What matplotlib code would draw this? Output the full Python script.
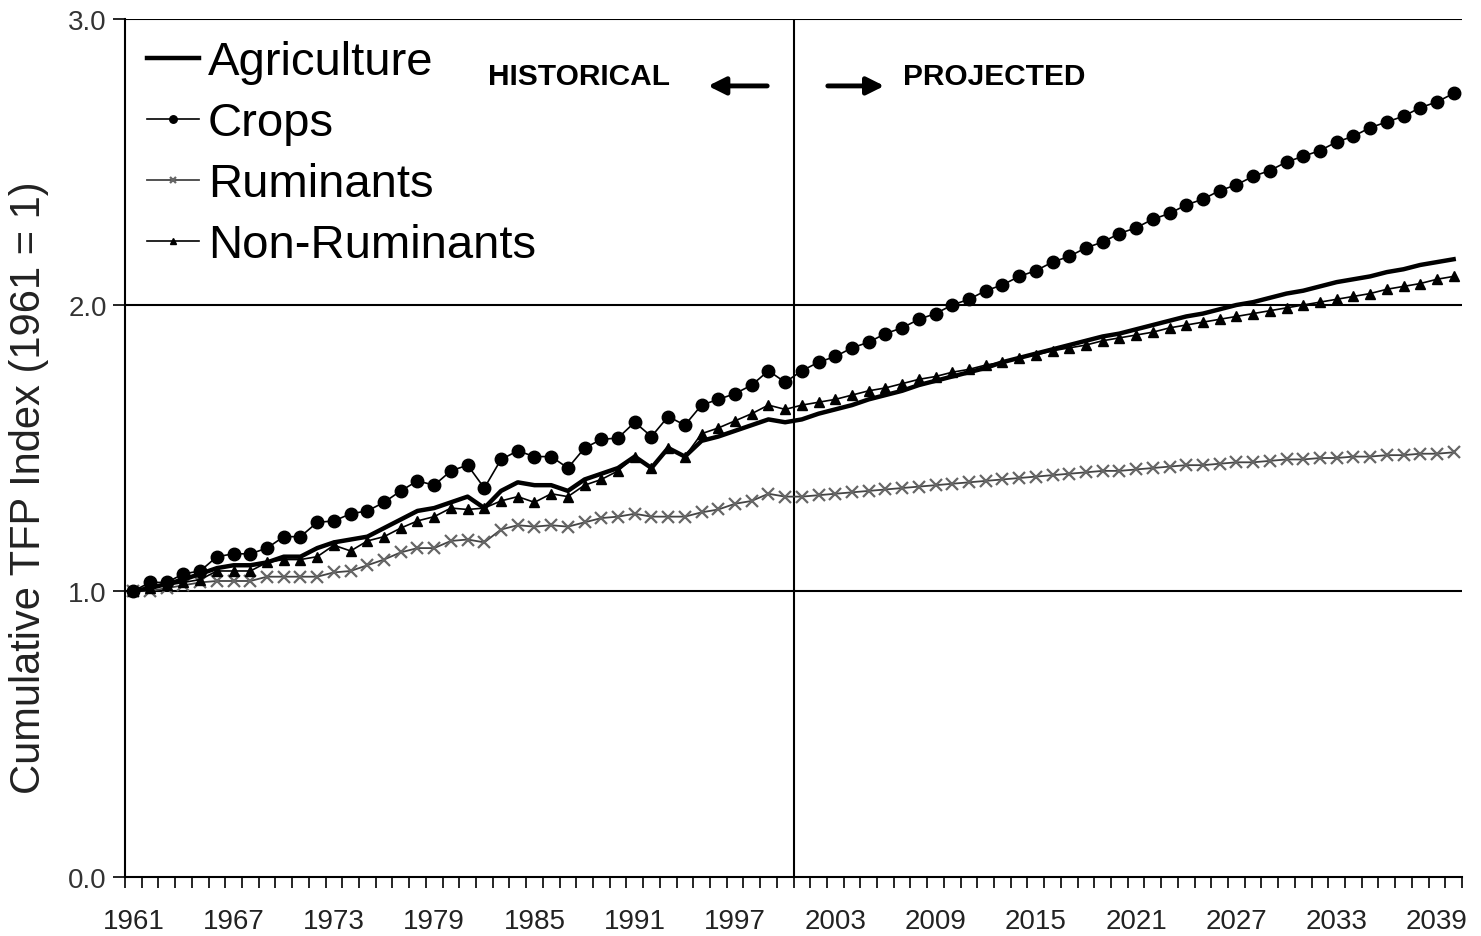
import matplotlib
matplotlib.use("Agg")
import matplotlib.pyplot as plt
import numpy as np

plt.rcParams['font.family'] = ['Liberation Sans', 'DejaVu Sans']

# years 1961-2040, historical up to 2001, projection after
years = np.arange(1961, 2041)

agriculture = [
    1.00, 1.01, 1.025, 1.04, 1.06, 1.08, 1.09, 1.09, 1.10, 1.12,
    1.12, 1.15, 1.17, 1.18, 1.19, 1.22, 1.25, 1.28, 1.29, 1.31,
    1.33, 1.29, 1.35, 1.38, 1.37, 1.37, 1.35, 1.39, 1.41, 1.43,
    1.47, 1.43, 1.50, 1.47, 1.525, 1.54, 1.56, 1.58, 1.60, 1.59,
    1.60,
    1.62, 1.635, 1.65, 1.67, 1.685, 1.70, 1.72, 1.735, 1.75,
    1.765, 1.78, 1.80, 1.815, 1.83, 1.845, 1.86, 1.875, 1.89, 1.90,
    1.915, 1.93, 1.945, 1.96, 1.97, 1.985, 2.00, 2.01, 2.025, 2.04,
    2.05, 2.065, 2.08, 2.09, 2.10, 2.115, 2.125, 2.14, 2.15, 2.16,
]

crops = [
    1.00, 1.03, 1.03, 1.06, 1.07, 1.12, 1.13, 1.13, 1.15, 1.19,
    1.19, 1.24, 1.245, 1.27, 1.28, 1.31, 1.35, 1.385, 1.37, 1.42,
    1.44, 1.36, 1.46, 1.49, 1.47, 1.47, 1.43, 1.50, 1.53, 1.535,
    1.59, 1.54, 1.61, 1.58, 1.65, 1.67, 1.69, 1.72, 1.77, 1.73,
    1.77,
    1.80, 1.82, 1.85, 1.87, 1.90, 1.92, 1.95, 1.97, 2.00,
    2.02, 2.05, 2.07, 2.10, 2.12, 2.15, 2.17, 2.20, 2.22, 2.25,
    2.27, 2.30, 2.32, 2.35, 2.37, 2.40, 2.42, 2.45, 2.47, 2.50,
    2.52, 2.54, 2.57, 2.59, 2.62, 2.64, 2.66, 2.69, 2.71, 2.74,
]

ruminants = [
    1.00, 1.00, 1.01, 1.02, 1.03, 1.035, 1.035, 1.035, 1.05, 1.05,
    1.05, 1.05, 1.065, 1.07, 1.09, 1.11, 1.135, 1.15, 1.15, 1.175,
    1.18, 1.17, 1.215, 1.23, 1.225, 1.23, 1.225, 1.24, 1.255, 1.26,
    1.27, 1.26, 1.26, 1.26, 1.275, 1.285, 1.305, 1.315, 1.34, 1.33,
    1.33,
    1.335, 1.34, 1.345, 1.35, 1.355, 1.36, 1.365, 1.37, 1.375,
    1.38, 1.385, 1.39, 1.395, 1.40, 1.405, 1.41, 1.415, 1.42, 1.42,
    1.425, 1.43, 1.435, 1.44, 1.44, 1.445, 1.45, 1.45, 1.455, 1.46,
    1.46, 1.465, 1.465, 1.47, 1.47, 1.475, 1.475, 1.48, 1.48, 1.485,
]

non_ruminants = [
    1.00, 1.01, 1.02, 1.03, 1.04, 1.07, 1.07, 1.07, 1.10, 1.11,
    1.11, 1.12, 1.16, 1.14, 1.175, 1.19, 1.22, 1.245, 1.26, 1.29,
    1.285, 1.29, 1.315, 1.33, 1.31, 1.34, 1.33, 1.37, 1.39, 1.42,
    1.47, 1.43, 1.50, 1.47, 1.55, 1.57, 1.595, 1.62, 1.65, 1.635,
    1.65,
    1.66, 1.67, 1.685, 1.70, 1.71, 1.725, 1.74, 1.75, 1.765,
    1.775, 1.79, 1.80, 1.815, 1.825, 1.84, 1.85, 1.86, 1.875, 1.885,
    1.895, 1.905, 1.92, 1.93, 1.94, 1.95, 1.96, 1.97, 1.98, 1.99,
    2.00, 2.01, 2.02, 2.03, 2.04, 2.055, 2.065, 2.075, 2.09, 2.10,
]

x_labels = [str(y) for y in range(1961, 2040, 6)]
y_ticks = [0.0, 1.0, 2.0, 3.0]

fig = plt.figure(figsize=(14.81, 9.37), dpi=100)
ax = fig.add_axes([125/1481, 1-878/937, (1462-125)/1481, (878-20)/937])

for yv in [1.0, 2.0, 3.0]:
    ax.axhline(yv, color='black', lw=1.5, zorder=1)
ax.axvline(2000.5, color='black', lw=1.5, zorder=1)

ax.plot(years, ruminants, color='#444444', lw=1.3, marker='x', ms=8,
        mew=1.6, mec='#666666', label='Ruminants', zorder=3)
ax.plot(years, non_ruminants, color='black', lw=1.2, marker='^', ms=7,
        label='Non-Ruminants', zorder=4)
ax.plot(years, crops, color='black', lw=1.2, marker='o', ms=9,
        label='Crops', zorder=5)
ax.plot(years, agriculture, color='black', lw=3.2, label='Agriculture', zorder=6)

ax.set_xlim(1960.5, 2040.5)
ax.set_ylim(0, 3.0)

ax.set_xticks([int(s) for s in x_labels])
ax.set_xticklabels(x_labels)
ax.set_xticks(np.arange(1960.5, 2041, 1.0), minor=True)
ax.tick_params(axis='x', which='major', length=0, pad=22, labelsize=20,
               labelcolor='#222222')
ax.tick_params(axis='x', which='minor', length=8, width=1.2, direction='out')

ax.set_yticks(y_ticks)
ax.set_yticklabels(['%.1f' % v for v in y_ticks])
ax.tick_params(axis='y', length=9, width=1.2, labelsize=20, pad=4,
               labelcolor='#333333')

ax.spines['top'].set_visible(False)
ax.spines['right'].set_visible(False)
ax.spines['left'].set_linewidth(1.5)
ax.spines['bottom'].set_linewidth(1.5)

ax.set_ylabel('Cumulative TFP Index (1961 = 1)', fontsize=30, color='#222222')
ax.yaxis.set_label_coords(-0.057, 0.455)

# legend
h, l = ax.get_legend_handles_labels()
order = [3, 2, 0, 1]
leg = ax.legend([h[i] for i in order], [l[i] for i in order], loc='upper left',
                bbox_to_anchor=(-0.005, 1.008), frameon=False, fontsize=34,
                handlelength=1.1, handletextpad=0.2, labelspacing=0.36,
                markerscale=0.6, borderaxespad=0.2)

# historical / projected annotation
ax.text(0.2715, 0.934, 'HISTORICAL', transform=ax.transAxes, fontsize=21.5,
        fontweight='bold', va='center', ha='left')
ax.text(0.5819, 0.934, 'PROJECTED', transform=ax.transAxes, fontsize=21.5,
        fontweight='bold', va='center', ha='left')
ax.annotate('', xy=(0.434, 0.922), xytext=(0.4824, 0.922), xycoords='axes fraction',
            arrowprops=dict(arrowstyle='-|>', color='black', lw=3.5, mutation_scale=26))
ax.annotate('', xy=(0.570, 0.922), xytext=(0.5236, 0.922), xycoords='axes fraction',
            arrowprops=dict(arrowstyle='-|>', color='black', lw=3.5, mutation_scale=26))

fig.savefig('out.png', dpi=100)
